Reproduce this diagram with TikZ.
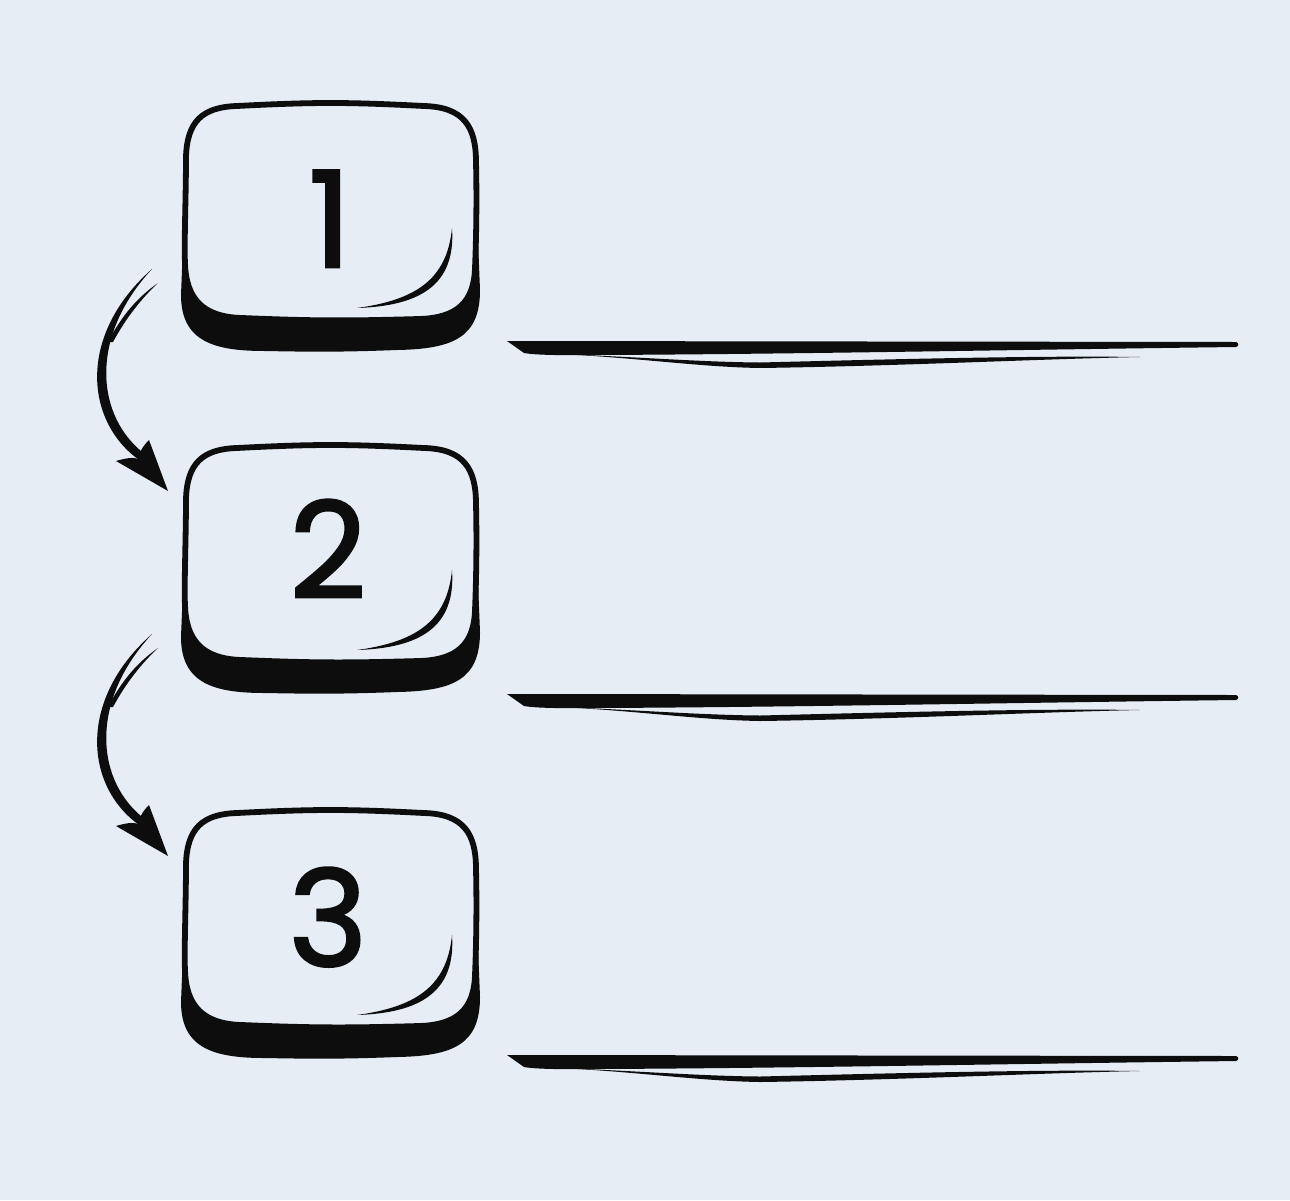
\documentclass[tikz,border=0pt]{standalone}
\usepackage{fontspec}
\newfontfamily\numfont{Poppins}[FakeBold=2]
\definecolor{bgcol}{HTML}{E6EDF5}
\definecolor{ink}{HTML}{0D0D0D}
\tikzset{
  facestyle/.style={fill=bgcol, draw=ink, line width=3.3pt, line join=round},
  inkfill/.style={fill=ink, draw=none}
}
\tikzset{
  numstyle/.style={font=\numfont\fontsize{76}{76}\selectfont, text=ink, inner sep=0pt, anchor=base}
}
\begin{document}
\begin{tikzpicture}[x=0.02cm, y=-0.02cm]
\fill[bgcol] (0,0) rectangle (1290,1200);
\useasboundingbox (0,0) rectangle (1290,1200);

% key boxes
\foreach \T in {105,447,812}{
\begin{scope}[shift={(0,\T)}]
  \fill[inkfill] (184,115) -- (181,190) .. controls (181,237) and (215,246) .. (265,246)
     .. controls (315,247) and (346,247) .. (397,245)
     .. controls (454,244) and (480,232) .. (480,185) -- (478,135) -- cycle;
  \path[facestyle] (237,1) .. controls (315,-3) and (346,-3) .. (424,1)
     .. controls (464,2) and (476,22) .. (476,57)
     .. controls (477,100) and (476,140) .. (475,163)
     .. controls (474,198) and (456,213) .. (419,214)
     .. controls (346,216) and (315,216) .. (242,213)
     .. controls (202,212) and (186,193) .. (185,158)
     .. controls (184,140) and (186,90) .. (186,52)
     .. controls (187,17) and (202,2) .. (237,1) -- cycle;
  \fill[inkfill] (452,123) .. controls (456,180) and (420,201) .. (357,203)
     .. controls (415,195) and (447,175) .. (452,123) -- cycle;
\end{scope}
}

% numerals
\node[numstyle] (n1) at (330,267) {1};
\node[numstyle] (n2) at (328,598) {2};
\node[numstyle] (n3) at (328,966) {3};

% arrows (box 1 -> box 2, box 2 -> box 3)
\foreach \S/\k in {0/1,365/2}{
\begin{scope}[shift={(0,\S)}]
  \coordinate (s\k) at (152,269);
  \coordinate (r\k) at (158,283);
  \coordinate (e\k) at (142,462);
  \coordinate (h\k) at (168,491);
  % main stroke: thin at the tail, thick near the head
  \fill[inkfill] (s\k) .. controls (76,336) and (85,424) .. (e\k)
     -- (146,455) .. controls (96,418) and (88,338) .. (s\k) -- cycle;
  % second tail strand
  \fill[inkfill] (r\k) .. controls (138,297) and (122,315) .. (108,342)
     -- (113,342) .. controls (126,318) and (141,299) .. (r\k) -- cycle;
  % arrow head
  \fill[inkfill] (h\k) -- (116,461) .. controls (126,458) and (133,457) .. (139,459)
     .. controls (139,453) and (142,447) .. (149,440) -- cycle;
\end{scope}
}

% underlines
\foreach \Y in {341,694,1055}{
\begin{scope}[shift={(0,\Y)}]
  \fill[inkfill] (507,0) -- (1236,1) .. controls (1239,2) and (1239,5) .. (1236,6)
     .. controls (1000,9) and (800,13) .. (600,14)
     .. controls (560,14.5) and (535,14) .. (524,12) -- cycle;
  \fill[inkfill] (560,13) .. controls (640,17) and (700,26) .. (760,27)
     .. controls (900,25) and (1040,18) .. (1140,16)
     .. controls (1040,14.5) and (900,18) .. (760,21.5)
     .. controls (700,21) and (640,16) .. (560,13) -- cycle;
\end{scope}
}
\end{tikzpicture}
\end{document}
